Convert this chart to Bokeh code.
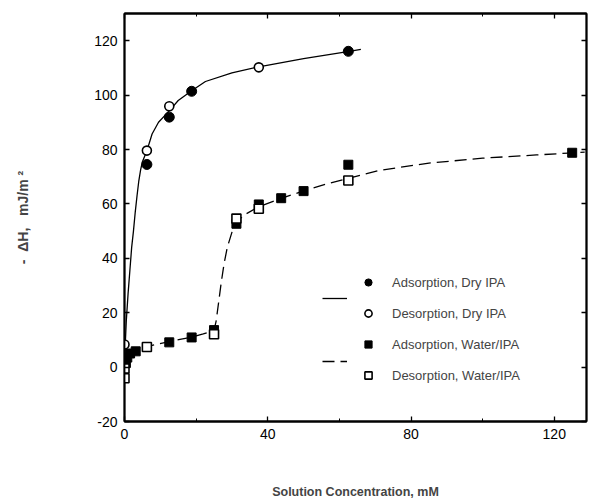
from bokeh.plotting import figure
from bokeh.models import Range1d, LinearAxis, FixedTicker, Legend, LegendItem
from bokeh.embed import file_html
from bokeh.resources import INLINE

# ---------------- data ----------------
ads_dry_x = [6.25, 12.5, 18.75, 62.5]
ads_dry_y = [74.5, 91.9, 101.4, 116.1]

des_dry_x = [0.0, 6.25, 12.5, 37.5]
des_dry_y = [8.3, 79.6, 95.9, 110.2]

ads_wat_x = [0.39, 0.78, 1.56, 3.13, 12.5, 18.75, 25.0, 31.25, 37.5, 43.75, 50.0, 62.5, 125.0]
ads_wat_y = [1.5, 3.5, 5.0, 5.8, 9.1, 10.9, 13.6, 52.7, 59.8, 62.1, 64.7, 74.4, 78.8]

des_wat_x = [0.0, 0.0, 6.25, 25.0, 31.25, 37.5, 62.5]
des_wat_y = [-0.5, -4.1, 7.4, 12.1, 54.6, 58.2, 68.6]

# fitted curves
fit_dry_x = [0.2, 0.5, 1.0, 1.5, 2.0, 2.5, 3.0, 3.5, 4.0, 4.5, 5.0, 6.25, 7.7, 9.5,
             12.5, 15.0, 18.75, 22.6, 30.0, 37.5, 50.0, 63.2, 66.0]
fit_dry_y = [8.0, 17.0, 27.0, 35.5, 44.0, 50.0, 57.0, 63.0, 68.5, 72.5, 75.5, 79.5, 85.7, 90.0,
             94.2, 98.0, 101.6, 105.0, 108.2, 110.4, 113.4, 116.2, 116.8]

fit_wat_x = [0.0, 0.3, 0.7, 1.5, 2.8, 4.0, 6.25, 9.0, 12.5, 15.5, 18.75, 22.0, 25.0, 25.6,
             26.3, 27.0, 27.8, 28.7, 30.1, 31.25, 33.5, 37.5, 43.75, 50.0, 56.0, 62.5,
             71.0, 85.0, 100.0, 115.0, 128.5]
fit_wat_y = [-3.0, 0.0, 3.0, 4.5, 5.8, 6.5, 7.5, 8.4, 9.4, 10.2, 11.0, 12.2, 13.5, 17.0,
             24.0, 31.0, 38.0, 44.0, 50.0, 53.2, 56.0, 59.0, 62.0, 64.8, 67.2, 69.4,
             72.3, 75.0, 76.8, 78.0, 79.0]

x_major = [0, 40, 80, 120]
x_minor = [20, 60, 100]
y_major = [-20, 0, 20, 40, 60, 80, 100, 120]
y_tick_labels = ["-20", "0", "20", "40", "60", "80", "100", "120"]

labels = ["Adsorption, Dry IPA", "Desorption, Dry IPA",
          "Adsorption, Water/IPA", "Desorption, Water/IPA"]

FONT = "Liberation Sans"

p = figure(width=589, height=501, output_backend="svg", toolbar_location=None,
           x_range=Range1d(0, 129), y_range=Range1d(-20, 130),
           min_border_left=124, min_border_right=3, min_border_top=13, min_border_bottom=79,
           background_fill_color="white", border_fill_color="white")
p.grid.visible = False
p.outline_line_color = "black"
p.outline_line_width = 1.8

xt = FixedTicker(ticks=x_major, minor_ticks=x_minor)
yt = FixedTicker(ticks=y_major, minor_ticks=[])


def style_axis(ax, show_labels):
    ax.axis_line_color = "black"
    ax.axis_line_width = 1.8
    ax.major_tick_in = 5
    ax.major_tick_out = 0
    ax.minor_tick_in = 3
    ax.minor_tick_out = 0
    ax.major_tick_line_width = 1.3
    ax.minor_tick_line_width = 1.0
    ax.major_label_text_font = FONT
    ax.major_label_text_font_size = "14px"
    if show_labels:
        ax.major_label_text_color = "black"
    else:
        ax.major_label_text_color = None
        ax.major_label_standoff = 0


xa = p.xaxis[0]
xa.ticker = xt
style_axis(xa, True)
xa.major_label_standoff = 7
xa.axis_label = "Solution Concentration, mM"
xa.axis_label_text_font = FONT
xa.axis_label_text_font_style = "bold"
xa.axis_label_text_font_size = "12.5px"
xa.axis_label_standoff = 43

ya = p.yaxis[0]
ya.ticker = yt
style_axis(ya, True)
ya.major_label_standoff = 7
ya.major_label_overrides = {t: s for t, s in zip(y_major, y_tick_labels)}
ya.axis_label = "-\u00a0\u00a0ΔH,\u00a0\u00a0\u00a0mJ/m\u00a0²"
ya.axis_label_text_font = FONT
ya.axis_label_text_font_style = "bold"
ya.axis_label_text_font_size = "14px"
ya.axis_label_standoff = 60

top = LinearAxis(ticker=xt)
style_axis(top, False)
p.add_layout(top, "above")
right = LinearAxis(ticker=yt)
style_axis(right, False)
p.add_layout(right, "right")

# curves
l_dry = p.line(fit_dry_x, fit_dry_y, line_color="black", line_width=1.3)
l_wat = p.line(fit_wat_x, fit_wat_y, line_color="black", line_width=1.3, line_dash="12 6")

# markers
r1 = p.scatter(ads_dry_x, ads_dry_y, marker="circle", size=10,
               fill_color="black", line_color="black")
r2 = p.scatter(des_dry_x, des_dry_y, marker="circle", size=9,
               fill_color="white", line_color="black", line_width=1.6)
r3 = p.scatter(ads_wat_x, ads_wat_y, marker="square", size=9,
               fill_color="black", line_color="black")
r4 = p.scatter(des_wat_x, des_wat_y, marker="square", size=9,
               fill_color="white", line_color="black", line_width=1.6)

leg1 = Legend(items=[LegendItem(label=labels[0], renderers=[r1]),
                     LegendItem(label=labels[1], renderers=[r2]),
                     LegendItem(label=labels[2], renderers=[r3]),
                     LegendItem(label=labels[3], renderers=[r4])],
              location=(235, 37), glyph_width=18, glyph_height=18, label_height=18,
              spacing=13, padding=0, margin=0, label_standoff=15,
              label_text_font=FONT, label_text_font_size="13px",
              background_fill_alpha=0, border_line_alpha=0)
leg2 = Legend(items=[LegendItem(label=" ", renderers=[l_dry]),
                     LegendItem(label=" ", renderers=[l_wat])],
              location=(198, 51), glyph_width=25, glyph_height=18, label_height=18,
              spacing=45, padding=0, margin=0, label_standoff=0, label_width=0,
              label_text_font=FONT, label_text_font_size="13px",
              background_fill_alpha=0, border_line_alpha=0)
p.add_layout(leg1, "center")
p.add_layout(leg2, "center")

open("out.html", "w").write(file_html(p, INLINE))
